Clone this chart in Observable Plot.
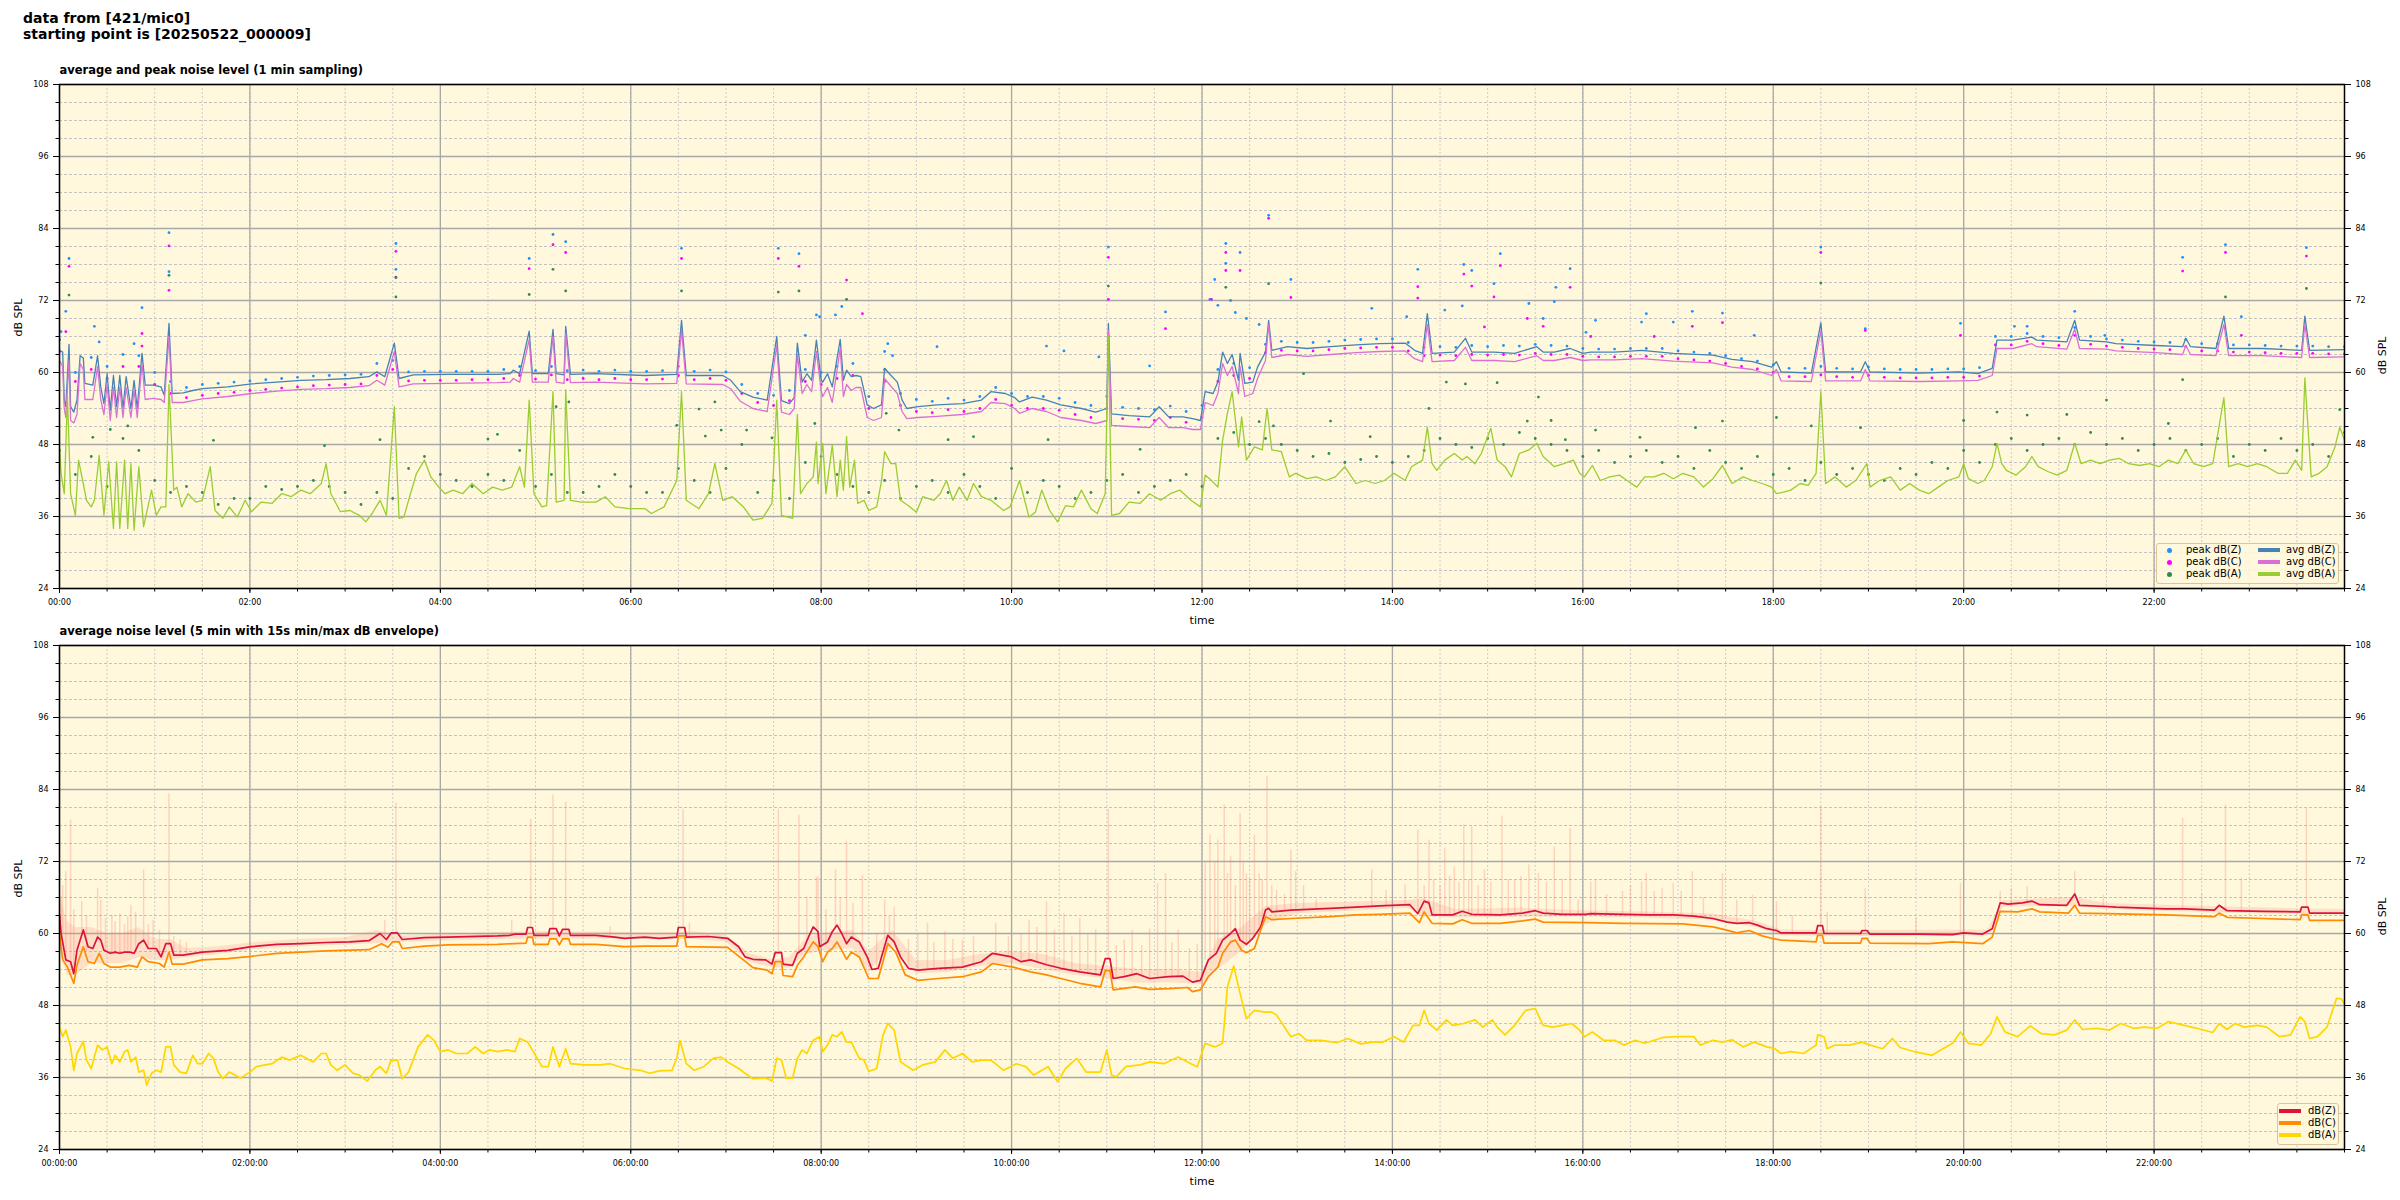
<!DOCTYPE html>
<html><head><meta charset="utf-8">
<script src="https://cdn.jsdelivr.net/npm/d3@7"></script>
<script src="https://cdn.jsdelivr.net/npm/@observablehq/plot@0.6"></script>
<style>
body{margin:0;background:#fff;width:2400px;height:1200px;position:relative;overflow:hidden;font-family:"DejaVu Sans",sans-serif;color:#000}
.abs{position:absolute}
.main{left:23px;top:10px;font-weight:bold;font-size:14px;line-height:16px;white-space:pre}
.legend{position:absolute;background:rgba(255,248,220,0.85);border:1px solid #dcc49a;border-radius:3px;font-size:10px}
.legend .it{position:absolute;white-space:nowrap;line-height:12px}
.legend .dot{position:absolute;width:5px;height:5px;border-radius:50%}
.legend .ln{position:absolute;height:4px;width:22px}
svg{display:block}
</style></head>
<body>
<div class="abs main">data from [421/mic0]
starting point is [20250522_000009]</div>
<div id="p1" class="abs" style="left:0;top:44px"></div>
<div id="p2" class="abs" style="left:0;top:605px"></div>
<div id="leg1" class="legend" style="left:2156px;top:543px;width:181px;height:39px"></div>
<div id="leg2" class="legend" style="left:2277px;top:1103px;width:60px;height:40px"></div>
<script>
// ---------- tick values / labels ----------
const majorX = [0,120,240,360,480,600,720,840,960,1080,1200,1320];
const xLabels1 = ["00:00","02:00","04:00","06:00","08:00","10:00","12:00","14:00","16:00","18:00","20:00","22:00"];
const xLabels2 = ["00:00:00","02:00:00","04:00:00","06:00:00","08:00:00","10:00:00","12:00:00","14:00:00","16:00:00","18:00:00","20:00:00","22:00:00"];
const yTicks = [24,36,48,60,72,84,96,108];
const minorX = d3.range(0,1441,30);
const minorY = d3.range(24,109,3);

// ---------- panel 1: 1-min averages [minute, dB] ----------
const avgZ = [[0,63.7],[2,63.4],[3,55.4],[4,54.3],[6,64.7],[7,54.3],[9,53.4],[11,55.4],[13,62.8],[15,62.4],[16,58.2],[21,57.9],[24,62.8],[26,57.6],[28,54.8],[30,59.8],[32,53.7],[34,59.5],[36,54.3],[38,59.5],[40,54.0],[42,59.3],[45,54.0],[47,58.7],[49,54.0],[52,63.2],[54,57.9],[59,57.9],[64,57.6],[66,56.2],[69,68.2],[71,56.5],[78,56.6],[84,57.0],[90,57.3],[106,57.6],[121,58.1],[137,58.4],[152,58.7],[168,58.8],[183,59.0],[195,59.3],[200,60.1],[205,59.3],[211,64.9],[214,59.0],[223,59.6],[245,59.7],[276,59.7],[284,59.8],[286,60.4],[290,59.8],[296,66.9],[298,59.8],[308,59.8],[311,67.2],[313,59.8],[318,59.6],[319,67.7],[322,59.7],[338,59.8],[369,59.5],[389,59.7],[392,68.7],[395,59.5],[418,59.5],[423,58.7],[429,56.8],[437,55.9],[446,55.4],[452,66.0],[455,55.3],[460,54.8],[463,55.8],[465,64.9],[468,58.4],[471,59.8],[474,58.7],[477,65.4],[480,58.7],[481,58.4],[484,59.8],[487,57.6],[492,65.5],[494,58.7],[496,60.4],[499,59.3],[502,59.5],[505,59.3],[509,54.6],[513,54.0],[518,54.6],[520,60.7],[523,59.8],[528,58.4],[531,55.4],[534,54.0],[541,54.3],[553,54.6],[569,54.8],[581,55.4],[587,56.8],[596,56.5],[602,55.8],[605,55.1],[613,55.9],[622,55.4],[631,54.6],[644,54.0],[653,53.4],[660,54.0],[661,68.2],[663,53.1],[674,52.8],[687,52.6],[693,54.3],[699,52.6],[708,52.6],[714,52.3],[719,52.0],[722,56.8],[727,56.5],[730,58.4],[733,63.4],[736,61.5],[739,63.0],[743,58.7],[744,63.2],[747,58.2],[752,58.4],[755,60.9],[760,63.4],[762,68.7],[764,63.7],[774,64.3],[786,64.0],[801,64.3],[817,64.6],[832,64.8],[848,64.9],[854,63.7],[859,63.2],[862,69.8],[865,63.2],[879,63.4],[886,65.7],[890,63.4],[904,63.4],[917,63.2],[931,64.3],[935,63.4],[942,63.4],[952,64.0],[960,63.2],[965,63.4],[980,63.4],[997,63.7],[1017,63.2],[1042,62.9],[1054,62.2],[1067,61.8],[1079,60.9],[1082,61.8],[1085,60.1],[1104,59.9],[1110,68.3],[1113,60.1],[1135,60.1],[1138,61.8],[1141,60.1],[1172,59.9],[1197,60.1],[1209,59.8],[1218,60.7],[1221,65.4],[1231,65.4],[1243,65.9],[1246,65.4],[1265,65.1],[1270,68.7],[1273,65.4],[1290,65.1],[1296,64.8],[1321,64.5],[1338,64.3],[1340,65.7],[1343,64.3],[1359,64.0],[1364,69.4],[1367,64.0],[1388,64.0],[1413,63.7],[1415,69.4],[1418,63.7],[1440,63.8]];
const avgC = [[0,62.0],[2,61.0],[3,54.0],[4,52.5],[6,62.0],[7,52.0],[9,51.6],[11,53.0],[13,61.5],[15,60.5],[16,55.5],[21,55.5],[24,61.0],[26,55.5],[28,53.0],[30,58.0],[32,52.0],[34,57.5],[36,52.5],[38,57.5],[40,52.5],[42,57.5],[45,52.5],[47,57.0],[49,52.5],[52,61.5],[54,55.5],[59,55.7],[64,55.5],[66,55.0],[69,66.0],[71,55.0],[78,55.0],[84,55.3],[90,55.6],[106,56.0],[121,56.5],[137,56.9],[152,57.2],[168,57.3],[183,57.5],[195,57.8],[200,58.7],[205,57.9],[211,63.5],[214,57.6],[223,58.1],[245,58.2],[276,58.3],[284,58.4],[286,59.0],[290,58.4],[296,65.5],[298,58.4],[308,58.4],[311,66.0],[313,58.4],[318,58.2],[319,66.5],[322,58.3],[338,58.4],[369,58.1],[389,58.2],[392,67.0],[395,58.1],[418,58.0],[423,57.3],[429,55.2],[437,54.0],[446,53.5],[452,64.5],[455,53.4],[460,53.0],[463,54.0],[465,63.0],[468,56.5],[471,58.0],[474,56.8],[477,63.5],[480,57.0],[481,56.0],[484,57.5],[487,55.0],[492,64.0],[494,56.0],[496,58.0],[499,57.0],[502,57.5],[505,57.5],[509,52.5],[513,52.0],[518,52.5],[520,59.0],[523,58.0],[528,56.5],[531,53.5],[534,52.3],[541,52.5],[553,52.7],[569,53.0],[581,53.5],[587,55.0],[596,54.8],[602,54.0],[605,53.2],[613,54.0],[622,53.5],[631,52.5],[644,52.0],[653,51.5],[660,52.0],[661,67.0],[663,51.2],[674,51.0],[687,50.8],[693,52.5],[699,50.8],[708,50.8],[714,50.5],[719,50.5],[722,55.0],[727,54.5],[730,56.5],[733,61.5],[736,59.5],[739,61.0],[743,56.5],[744,61.0],[747,56.0],[752,56.5],[755,59.0],[760,62.0],[762,68.0],[764,62.5],[774,63.0],[786,62.7],[801,63.0],[817,63.3],[832,63.5],[848,63.6],[854,62.3],[859,61.8],[862,68.0],[865,61.8],[879,62.0],[886,64.2],[890,62.0],[904,62.0],[917,61.8],[931,62.8],[935,62.0],[942,62.0],[952,62.5],[960,62.0],[965,62.1],[980,62.1],[997,62.3],[1017,61.9],[1042,61.6],[1054,60.9],[1067,60.5],[1079,59.5],[1082,60.5],[1085,58.6],[1104,58.5],[1110,67.0],[1113,58.6],[1135,58.6],[1138,60.5],[1141,58.6],[1172,58.5],[1197,58.6],[1209,58.7],[1218,59.5],[1221,64.0],[1231,64.0],[1243,64.8],[1246,64.3],[1265,63.9],[1270,67.2],[1273,64.0],[1290,63.9],[1296,63.6],[1321,63.3],[1338,63.0],[1340,64.5],[1343,63.0],[1359,62.8],[1364,68.0],[1367,62.8],[1388,62.8],[1413,62.5],[1415,68.0],[1418,62.5],[1440,62.6]];
const avgA = [[0,47.3],[1,43.2],[3,39.8],[5,56],[7,39.8],[10,36.2],[12,45.4],[15,41.5],[17,38.7],[20,37.6],[22,38.7],[25,46.2],[28,36.2],[31,45.1],[34,34],[36,45.1],[38,34],[41,45.4],[43,34],[45,44.8],[47,33.7],[50,44.3],[53,34.3],[58,40.4],[61,36.2],[64,37.6],[67,37.6],[69,58],[72,40.4],[74,40.9],[77,37.6],[81,39.8],[86,38.4],[90,38.7],[95,44.3],[98,37],[103,35.7],[107,37.6],[112,35.9],[117,38.7],[121,36.8],[127,38.4],[134,38.2],[140,39.8],[146,39.3],[152,40.4],[158,39.8],[165,41.5],[168,44.8],[171,39.8],[177,36.8],[183,37],[189,36.2],[193,35.1],[197,36.5],[202,38.7],[206,36.2],[211,54.3],[214,35.7],[217,35.9],[220,38.7],[225,43.2],[230,45.4],[234,42.6],[239,40.9],[243,39.8],[248,40.4],[254,39.8],[260,41.5],[267,39.8],[273,40.9],[279,40.4],[285,40.9],[290,44.3],[293,40.9],[296,55.4],[299,39.8],[304,37.6],[307,37.8],[311,56.8],[313,38.4],[318,38.7],[319,57.1],[322,38.7],[329,38.4],[338,38.4],[344,39.3],[350,37.6],[359,37.3],[369,37.3],[373,36.5],[381,37.6],[389,42],[392,56.8],[395,38.7],[403,37.3],[409,39.8],[413,44.8],[418,38.7],[424,39.3],[431,37.6],[437,35.4],[443,35.7],[449,38.2],[452,55.4],[455,36.2],[462,35.7],[465,53],[467,39.8],[471,41.5],[475,42.6],[477,48.4],[478,41.5],[481,48.2],[483,39.8],[487,47.9],[490,39.3],[492,45.4],[494,40.4],[496,49.3],[498,40.9],[501,45.4],[503,38.2],[507,38.7],[510,37],[515,37.6],[518,41.9],[520,46.8],[524,44.8],[527,44.8],[530,38.7],[535,37.8],[540,36.7],[544,39.3],[551,38.7],[555,39.8],[559,42],[563,38.7],[567,40.9],[572,38.7],[576,41.5],[581,39.3],[587,38.7],[595,37],[599,37.6],[605,42],[611,35.9],[615,36.7],[619,40.4],[624,37],[629,35.1],[634,37.8],[639,37.6],[644,40.4],[650,37.3],[654,36.5],[659,39.8],[661,66],[663,36.2],[668,36.5],[674,38.4],[681,38.2],[687,39.8],[694,38.7],[700,39.8],[706,40.4],[713,38.7],[719,37.6],[722,42.9],[726,42],[730,40.9],[733,48.7],[736,53.2],[739,56.8],[743,47.6],[745,52.6],[748,45.4],[753,47.6],[758,47.1],[761,54],[764,47.1],[770,46.8],[775,42.6],[779,43.2],[786,42.3],[792,42.6],[798,42],[804,42.6],[810,44.3],[817,41.5],[823,42],[829,41.5],[835,42],[841,43.2],[848,42],[852,44.3],[859,45.4],[862,50.9],[865,44.8],[868,43.7],[873,45.4],[879,46.5],[884,45.4],[887,46],[892,44.8],[896,46.5],[902,50.7],[906,45.4],[911,44.3],[915,42.6],[920,46.5],[926,47.1],[931,48.2],[935,46],[942,44.3],[948,44.8],[954,45.4],[958,43.2],[961,42.6],[966,44.5],[971,42],[977,42.6],[983,42.9],[989,41.8],[994,40.9],[999,42.6],[1005,42.6],[1011,43.2],[1017,42.3],[1023,43.2],[1030,42.6],[1036,40.9],[1042,42.3],[1048,44.5],[1054,41.5],[1061,42.6],[1067,42],[1073,41.5],[1079,40.9],[1082,39.8],[1087,40.1],[1091,40.4],[1097,41.5],[1102,41.2],[1107,43.2],[1110,56.8],[1113,41.5],[1119,42.6],[1126,40.9],[1132,42],[1139,44.8],[1141,40.9],[1147,42],[1154,42.6],[1160,40.4],[1166,41.5],[1172,40.4],[1178,39.8],[1184,40.9],[1190,42],[1197,42.6],[1200,44.8],[1203,42.3],[1209,41.5],[1213,42],[1218,44.3],[1221,48.2],[1224,44.8],[1227,43.7],[1233,42.9],[1239,44.3],[1243,46],[1247,44.3],[1253,43.5],[1259,42.9],[1265,43.7],[1270,48.2],[1274,44.8],[1280,45.4],[1286,44.8],[1292,45.4],[1298,45.7],[1304,44.8],[1311,44.5],[1317,44.8],[1323,44.3],[1329,45.4],[1335,44.8],[1340,47.1],[1345,44.8],[1351,44.3],[1357,44.8],[1364,55.8],[1367,44.3],[1373,44.8],[1379,44.3],[1385,44.8],[1391,44.3],[1398,43.2],[1404,43.2],[1409,45.4],[1413,43.7],[1415,59.1],[1419,42.6],[1424,43.2],[1429,44.3],[1434,47.6],[1437,50.9],[1440,48.7]];

// ---------- panel 1: peak readings [minute, dB] ----------
const peakZ = [[0,65.5],[10,60],[20,62.5],[30,61],[40,63],[50,62.8],[60,60],[70,58.5],[80,57.5],[90,58],[100,58.2],[110,58.4],[120,58.6],[130,58.8],[140,59],[150,59.2],[160,59.4],[170,59.5],[180,59.6],[190,59.7],[200,61.5],[210,62],[220,60.1],[230,60.2],[240,60.2],[250,60.2],[260,60.2],[270,60.2],[280,60.5],[290,61],[300,60.3],[310,61],[320,60.3],[330,60.4],[340,60.2],[350,60.4],[360,60.2],[370,60.2],[380,60.3],[390,61],[400,60.2],[410,60.4],[420,60.1],[430,58],[440,56.5],[450,56.2],[460,57],[470,60.5],[480,60],[490,61],[500,61.5],[510,56],[520,60.5],[530,56.5],[540,55.5],[550,55.2],[560,55.7],[570,55.4],[580,56],[590,57.5],[600,56.5],[610,56],[620,56],[630,55.7],[640,55],[650,54.5],[660,56],[670,54.2],[680,54],[690,53.8],[700,54.4],[710,53.5],[720,54.5],[730,60.5],[740,61.5],[750,60.8],[760,64.7],[770,65.2],[780,65],[790,65],[800,65.2],[810,65.4],[820,65.5],[830,65.6],[840,65.6],[850,65],[860,64.2],[870,64.3],[880,64.2],[890,64.5],[900,64.3],[910,64.5],[920,64.4],[930,64.7],[940,64.5],[950,64.4],[960,64],[970,63.9],[980,63.9],[990,64],[1000,64],[1010,64],[1020,63.6],[1030,63.4],[1040,63.2],[1050,62.8],[1060,62.3],[1070,61.9],[1080,61.3],[1090,60.7],[1100,60.7],[1110,61],[1120,60.7],[1130,60.6],[1140,60.9],[1150,60.6],[1160,60.5],[1170,60.5],[1180,60.5],[1190,60.6],[1200,60.6],[1210,60.8],[1220,66],[1230,66],[1240,66.5],[1250,66],[1260,65.8],[1270,67.5],[1280,66],[1290,65.6],[1300,65.4],[1310,65.2],[1320,65.1],[1330,65],[1340,65.5],[1350,64.8],[1360,64.8],[1370,64.6],[1380,64.6],[1390,64.5],[1400,64.4],[1410,64.4],[1420,64.4],[1430,64.3],[1440,64.3],
 [6,79],[69,83.3],[69,76.8],[212,81.5],[212,77.2],[296,79],[311,83],[319,81.8],[392,80.7],[453,80.7],[466,79.8],[4,70.2],[1,66.8],[52,70.8],[22,67.7],[25,65.1],[47,64.8],[477,69.6],[470,66.2],
 [661,80.9],[735,81.5],[735,78.2],[744,80],[762,86.2],[776,75.5],[725,72.2],[728,75.5],[730,71.2],[856,77.2],[885,78],[890,77],[908,79.8],[904,74.8],[952,77.3],[943,74.2],[520,63.5],[522,64.8],[525,62.8],[553,64.3],[622,64.4],[633,63.6],[655,62.6],[697,70.1],[687,61.1],[489,69.6],[493,71],[479,69.3],[827,70.7],[873,70.4],[926,71.5],[942,71.8],[849,69.3],[935,69],[884,71.1],[738,72],[741,70],[748,69],[756,68],
 [1110,80.9],[1338,79.2],[1365,81.3],[1416,80.8],[968,68.7],[1000,69.8],[1029,70.2],[1048,69.9],[997,68.4],[1017,68.4],[962,66.7],[1138,67.3],[1198,68.2],[1270,70.2],[1375,69.3],[1232,67.7],[1240,67.7],[1289,66.2],[1068,66.2]];
const peakC = [[0,63.5],[10,58.5],[20,60.5],[30,59],[40,61],[50,61],[60,58],[70,56.5],[80,55.8],[90,56.2],[100,56.5],[110,56.7],[120,57],[130,57.2],[140,57.4],[150,57.6],[160,57.8],[170,57.9],[180,58],[190,58.1],[200,59.5],[210,60.5],[220,58.6],[230,58.7],[240,58.7],[250,58.7],[260,58.8],[270,58.8],[280,59],[290,59.5],[300,58.9],[310,59.6],[320,58.8],[330,59],[340,58.8],[350,59],[360,58.8],[370,58.8],[380,58.9],[390,59.5],[400,58.8],[410,59],[420,58.7],[430,56.5],[440,55],[450,54.5],[460,55.3],[470,58.5],[480,58],[490,59],[500,59.5],[510,54],[520,58.5],[530,54.5],[540,53.5],[550,53.3],[560,53.8],[570,53.5],[580,54],[590,55.5],[600,54.5],[610,54],[620,54],[630,53.7],[640,53],[650,52.5],[660,54],[670,52.3],[680,52.2],[690,52],[700,52.5],[710,51.7],[720,52.5],[730,58.5],[740,59.5],[750,59],[760,63.3],[770,63.7],[780,63.6],[790,63.6],[800,63.8],[810,64],[820,64.1],[830,64.2],[840,64.2],[850,63.6],[860,62.8],[870,62.9],[880,62.8],[890,63],[900,62.9],[910,63],[920,62.9],[930,63.2],[940,63],[950,63],[960,62.7],[970,62.6],[980,62.6],[990,62.7],[1000,62.7],[1010,62.7],[1020,62.3],[1030,62.1],[1040,61.9],[1050,61.5],[1060,61],[1070,60.6],[1080,60],[1090,59.3],[1100,59.3],[1110,59.6],[1120,59.3],[1130,59.2],[1140,59.5],[1150,59.2],[1160,59.1],[1170,59.1],[1180,59.1],[1190,59.2],[1200,59.2],[1210,59.4],[1220,64.6],[1230,64.6],[1240,65.2],[1250,64.8],[1260,64.5],[1270,66.2],[1280,64.7],[1290,64.4],[1300,64.2],[1310,64],[1320,63.9],[1330,63.8],[1340,64.3],[1350,63.6],[1360,63.6],[1370,63.4],[1380,63.4],[1390,63.3],[1400,63.2],[1410,63.2],[1420,63.2],[1430,63.1],[1440,63.1],
 [6,77.7],[69,81.1],[69,73.7],[212,80.2],[212,75.9],[296,77.3],[311,81.3],[319,80],[392,79],[453,79],[466,77.7],[4,66.8],[52,66.5],[52,64.4],
 [496,75.4],[661,79.2],[661,72.2],[735,80],[735,77],[744,77],[762,85.7],[776,72.5],[726,72.2],[856,74.3],[856,72.4],[885,76.4],[890,74.4],[908,77.8],[904,72.6],[952,74.2],[506,69.8],[697,67.3],[925,69],[935,67.7],[898,67.6],
 [1110,80],[1338,76.9],[1365,80],[1416,79.4],[1048,68.3],[1029,67.7],[1005,66],[1138,67],[1198,66.2],[1375,66.2],[965,66]];
const peakA = [[0,47],[10,43],[20,46],[30,41],[40,49],[50,47],[60,42],[70,40],[80,41],[90,40],[100,38],[110,39],[120,39],[130,41],[140,40.5],[150,41],[160,42],[170,41],[180,40],[190,38],[200,40],[210,39],[220,44],[230,46],[240,43],[250,42],[260,41],[270,43],[280,42],[290,47],[300,41],[310,43],[320,40],[330,40],[340,41],[350,43],[360,41],[370,40],[380,40],[390,44],[400,42],[410,40],[420,44],[430,48],[440,40],[450,42],[460,39],[470,45],[480,46],[490,43],[500,41],[510,40],[520,42],[530,39],[540,41],[550,42],[560,40],[570,43],[580,41],[590,39],[600,44],[610,40],[620,42],[630,41],[640,39],[650,40],[660,42],[670,43],[680,40],[690,41],[700,42],[710,43],[720,41],[730,49],[740,50],[750,48],[760,49],[770,48],[780,47],[790,46],[800,46.5],[810,45],[820,45.5],[830,46],[840,45],[850,46],[860,47],[870,49],[880,48],[890,47.5],[900,49],[910,48],[920,50],[930,49],[940,48],[950,47],[960,46],[970,47],[980,45],[990,46],[1000,47],[1010,45],[1020,46],[1030,44],[1040,47],[1050,45],[1060,44],[1070,46],[1080,43],[1090,44],[1100,42],[1110,45],[1120,43],[1130,44],[1140,43],[1150,42],[1160,44],[1170,43],[1180,45],[1190,44],[1200,47],[1210,45],[1220,48],[1230,49],[1240,47],[1250,48],[1260,49],[1270,48],[1280,50],[1290,48],[1300,49],[1310,47],[1320,48],[1330,49],[1340,47],[1350,48],[1360,49],[1370,46],[1380,48],[1390,47],[1400,49],[1410,47],[1420,48],[1430,46],[1440,50],
 [6,72.9],[69,76.2],[212,75.8],[212,72.6],[296,73],[311,77.2],[319,73.6],[392,73.6],[453,73.4],[466,73.6],
 [21,49.2],[32,50.5],[43,51.1],[97,48.7],[167,47.8],[202,48.8],[270,48.9],[276,49.7],[313,54.3],[321,55.1],[413,55.1],[403,53.9],[389,51.2],[417,50.4],[433,50.4],[407,49.4],[449,49.1],
 [496,72.2],[661,74.4],[735,74.2],[762,74.8],[476,51.5],[521,53.2],[529,50.4],[560,48.8],[576,49.3],[623,48.8],[681,47.2],[863,54],[874,58.4],[886,58.1],[906,58.3],[932,55.9],[784,59.8],[801,51.9],[826,49.3],[925,51.9],[940,52],[949,48.8],[756,51.8],[765,51.1],
 [1110,74.9],[1365,72.6],[1416,74],[1338,58.8],[1082,52.5],[1135,50.8],[1104,51.1],[1048,51.9],[1221,53.4],[1240,52.9],[1265,53],[1290,55.4],[1437,53.8],[1329,51.5],[1200,52],[1031,50.8],[968,50.4],[996,49.2]];

// ---------- panel 2: 5-min averages [minute, dB] ----------
const lineZ = [[0,63.1],[1,60],[4,55.6],[7,55.3],[9,53.3],[11,57.2],[15,60.6],[18,57.8],[21,57.5],[24,59.4],[26,58.9],[28,57.2],[32,56.7],[35,56.9],[38,56.7],[41,56.9],[44,56.9],[47,56.7],[50,58.3],[53,58.9],[56,57.5],[61,57.5],[64,56.1],[67,58.3],[70,58.3],[72,56.4],[78,56.4],[90,56.9],[106,57.2],[121,57.8],[137,58.2],[152,58.3],[168,58.5],[183,58.6],[195,58.8],[202,60],[206,59],[209,60.1],[213,60.1],[216,59],[230,59.3],[245,59.4],[276,59.6],[284,59.7],[287,59.9],[294,59.9],[295,61],[298,61],[299,59.7],[308,59.7],[309,60.8],[313,60.8],[315,59.6],[317,60.7],[321,60.7],[322,59.7],[338,59.7],[350,59.4],[356,59.2],[369,59.4],[378,59.2],[389,59.4],[390,61],[394,61],[395,59.4],[409,59.5],[421,59.2],[428,57.8],[432,56.1],[437,55.7],[445,55.6],[449,54.9],[451,56.8],[455,56.8],[456,54.9],[462,54.7],[465,56.7],[469,57.5],[472,59.4],[475,61.1],[478,60.3],[479,57.8],[484,58.6],[487,60.3],[490,61.4],[493,60],[496,58.3],[499,59.4],[504,58.6],[509,56.1],[512,54],[516,54.2],[522,59.7],[526,58.6],[530,56.1],[535,54.2],[541,53.9],[554,54.2],[569,54.4],[581,55.3],[588,56.7],[600,56.1],[606,55.3],[612,55.6],[622,54.8],[631,54.2],[643,53.6],[656,53.1],[659,55.8],[662,55.8],[664,52.5],[671,52.8],[679,53.3],[687,52.5],[699,52.8],[708,52.9],[714,51.9],[719,52.2],[724,55.6],[729,56.7],[733,58.9],[738,60],[741,60.8],[744,58.9],[748,58.2],[752,59.2],[757,61.1],[760,63.9],[762,64.2],[764,63.6],[776,63.9],[801,64.2],[817,64.4],[832,64.6],[851,64.8],[856,63.3],[860,65.4],[863,65.1],[865,63.1],[878,63.1],[884,63.7],[890,63.2],[908,63.1],[922,63.4],[930,63.8],[935,63.4],[947,63.2],[962,63.2],[965,63.3],[986,63.2],[1002,63.1],[1017,63.1],[1030,62.9],[1042,62.5],[1051,61.9],[1057,61.7],[1065,61.8],[1070,61.4],[1076,60.8],[1082,60.5],[1085,60.1],[1107,60.1],[1108,61.3],[1111,61.3],[1112,60],[1135,60],[1136,60.5],[1139,60.5],[1141,59.9],[1172,59.9],[1193,59.8],[1200,60.1],[1212,59.9],[1218,60.8],[1223,65.1],[1228,64.9],[1237,65.1],[1243,65.4],[1248,64.8],[1265,64.7],[1270,66.6],[1273,64.7],[1290,64.5],[1296,64.4],[1327,64.1],[1339,64.1],[1358,63.9],[1361,64.7],[1366,63.8],[1389,63.7],[1412,63.6],[1413,64.4],[1417,64.4],[1418,63.4],[1440,63.4]];
const lineC = [[0,60],[2,55.6],[5,54.4],[9,51.7],[11,54.7],[15,57.8],[18,55.3],[22,55],[25,56.7],[28,55],[32,54.4],[38,54.4],[44,54.7],[49,54.4],[52,56.1],[56,55.3],[63,55],[66,54.4],[69,56.9],[71,54.9],[78,54.9],[90,55.6],[106,55.8],[121,56.2],[137,56.7],[152,56.9],[168,57.1],[195,57.3],[203,58.3],[207,57.7],[210,58.6],[214,58.6],[216,57.5],[230,57.9],[245,58.1],[276,58.2],[294,58.4],[295,59.4],[298,59.4],[299,58.2],[308,58.2],[309,59.1],[313,59.1],[315,58.1],[317,59.1],[321,59.1],[322,58.2],[338,58.2],[356,57.8],[369,57.9],[389,57.9],[390,59.6],[394,59.6],[395,57.8],[421,57.7],[431,55.6],[437,54.3],[446,53.9],[449,53.3],[451,55.3],[455,55.3],[456,53],[462,52.8],[465,54.7],[469,56.1],[475,58.6],[478,57.8],[481,55.3],[484,56.9],[487,57.5],[490,58.6],[493,57.2],[496,55.7],[499,56.9],[504,56.1],[510,52.5],[516,52.5],[522,58.3],[527,56.9],[533,53.1],[541,52.2],[554,52.5],[569,52.8],[581,53.6],[588,55],[601,54.4],[612,53.6],[622,53.1],[631,52.5],[643,51.7],[656,51.1],[659,53.8],[662,53.8],[664,50.6],[678,51.1],[687,50.7],[699,50.8],[711,51],[714,50.3],[719,50.6],[724,52.8],[730,54.4],[733,56.7],[738,58.6],[741,58.9],[745,57.2],[748,56.8],[753,57.5],[757,60.6],[760,62.8],[764,62.3],[776,62.5],[801,62.8],[817,63.1],[832,63.2],[851,63.4],[857,61.8],[860,63.6],[865,61.7],[878,61.6],[884,62.3],[890,61.7],[908,61.7],[922,62.1],[930,62.4],[935,61.9],[962,61.8],[986,61.7],[1023,61.6],[1042,61.1],[1050,60.6],[1057,60.1],[1065,60.5],[1073,59.6],[1079,59.2],[1085,58.9],[1107,58.6],[1108,59.7],[1111,59.7],[1112,58.4],[1135,58.4],[1136,59.2],[1139,59.2],[1141,58.4],[1178,58.3],[1193,58.6],[1212,58.3],[1218,59.4],[1223,63.7],[1234,63.6],[1243,64.1],[1248,63.6],[1266,63.4],[1270,64.7],[1273,63.4],[1290,63.3],[1327,63.1],[1358,62.8],[1361,63.4],[1366,62.7],[1389,62.5],[1412,62.3],[1413,63.1],[1417,63.1],[1418,62.2],[1440,62.2]];
const lineA = [[0,44.4],[2,42.8],[4,43.9],[7,41.1],[9,37.2],[11,40],[15,42],[17,38.9],[20,37.5],[24,41.4],[27,40.6],[30,41.1],[33,38.3],[35,39.7],[38,38.6],[41,40.3],[43,40.6],[45,38.6],[48,39.4],[50,36.9],[53,37.2],[55,34.7],[58,36.7],[61,37.2],[64,36.9],[67,41.1],[70,41.1],[72,38.1],[76,36.9],[80,36.7],[84,39.7],[87,38.3],[90,38.3],[94,40],[97,39.2],[100,36.9],[103,35.8],[107,36.9],[114,35.9],[120,36.9],[124,37.8],[134,38.3],[140,39.4],[145,38.9],[152,39.7],[160,38.6],[165,40],[168,40],[171,38.1],[175,37.2],[180,38.1],[185,36.7],[189,36.4],[194,35.4],[199,37.2],[202,37.8],[206,36.7],[209,38.9],[213,38.9],[216,35.8],[220,36.9],[226,41.1],[232,43.1],[236,42.2],[240,40.3],[245,40.6],[250,40],[257,40],[262,41.1],[267,40],[271,40.6],[276,40.3],[282,40.6],[287,40.3],[290,42.5],[295,41.9],[298,40.6],[304,37.8],[308,37.8],[311,41.1],[315,37.8],[319,40.8],[322,38.3],[331,38.1],[341,38.1],[347,38.3],[356,37.5],[366,37.2],[372,36.7],[378,37.1],[386,37.2],[389,39.2],[391,42.2],[395,38.3],[400,37.2],[406,37.8],[412,39.2],[417,39.4],[421,38.6],[428,37.5],[432,36.7],[437,35.8],[445,35.9],[449,35.4],[452,39.2],[455,38.9],[458,35.9],[462,35.9],[465,39.2],[468,40.6],[471,40],[475,42.2],[479,42.8],[481,40.3],[484,41.4],[487,43.1],[490,42.8],[493,43.6],[496,41.9],[499,41.9],[504,39.2],[507,38.9],[510,37],[515,37.5],[519,43.1],[522,45],[526,43.9],[530,38.6],[538,37.2],[544,38.1],[552,38.6],[558,40.6],[563,39.2],[569,40],[575,38.6],[581,38.9],[587,38.9],[595,37.2],[603,38.3],[609,37.8],[614,36.4],[623,37.8],[629,35.3],[634,37.5],[641,39.2],[647,36.9],[656,36.9],[660,40.6],[663,36.4],[666,36.1],[672,37.8],[681,38.1],[687,38.6],[696,38.3],[705,39.4],[713,38.3],[717,37.8],[722,41.7],[728,41.1],[733,41.7],[736,51.1],[740,54.6],[743,51.1],[748,45.8],[753,47.2],[760,46.9],[764,46.9],[767,46.4],[772,44.4],[776,42.8],[781,43.3],[786,42.2],[795,42.2],[805,41.8],[812,42.5],[820,41.6],[827,41.9],[834,41.9],[841,42.8],[847,41.9],[853,44.7],[857,44.7],[860,47.2],[863,45],[868,43.9],[874,45.6],[878,44.7],[885,45],[892,45.6],[897,44.4],[903,45.6],[906,44.4],[911,43.1],[917,44.7],[924,47.2],[930,47.5],[935,44.7],[941,44.4],[947,44.7],[953,45],[958,43.9],[961,42.8],[966,43.6],[973,42.2],[980,42.2],[986,41.4],[993,42.2],[999,41.7],[1005,42.2],[1011,42.7],[1020,42.8],[1030,42.8],[1034,41.4],[1042,42.2],[1048,41.9],[1054,42.3],[1061,41.1],[1068,41.9],[1076,41.1],[1081,40.8],[1085,40],[1091,40.3],[1099,40],[1107,41.4],[1108,43.1],[1112,42.8],[1114,40.8],[1119,41.4],[1128,41.4],[1136,41.9],[1141,41.4],[1149,40.8],[1155,42.5],[1160,41],[1169,40.3],[1180,39.7],[1187,40.8],[1193,41.7],[1198,43.6],[1203,41.7],[1211,41.4],[1217,43.3],[1221,46.1],[1226,43.6],[1234,42.8],[1242,44.6],[1249,43.3],[1257,43.1],[1262,43.6],[1265,43.9],[1270,45.6],[1275,44],[1284,44.2],[1292,43.9],[1299,45],[1307,44.2],[1314,44.4],[1322,44.2],[1329,45.3],[1339,44.7],[1347,44.2],[1357,43.5],[1361,45],[1366,44],[1371,45],[1377,44.4],[1385,44.7],[1391,44.4],[1399,42.8],[1406,43.1],[1412,46.1],[1415,45.3],[1418,42.5],[1423,42.8],[1429,44.4],[1435,49.2],[1438,49.1],[1440,48.2]];

// ---------- panel 2: 15 s min/max envelope [minute, min dB, max dB] ----------
const envBand = [[0,58,66],[5,53,62],[10,53,61],[20,55,61],[30,55,60],[40,55,60],[50,56,61],[60,55.5,59],[70,55.5,59],[80,56,57.5],[100,56.5,57.8],[120,57.2,58.4],[150,57.8,59],[180,58.1,59.3],[200,58.3,60.5],[215,58.5,59.6],[250,58.8,59.9],[280,59,60.2],[300,59.1,60.3],[340,59.1,60.2],[380,59,60.1],[400,59,60.3],[420,58.6,59.7],[435,55.2,56.6],[450,54.3,55.6],[460,54.2,56],[470,56.5,59],[480,57,60],[500,57.5,60.5],[510,53.5,57],[525,58,60.5],[540,53.3,55.5],[560,53.5,55.5],[580,54.5,56.5],[600,55,57],[620,54,56.5],[640,53,55],[660,52.5,54.5],[680,51.7,54],[700,51.8,54],[720,51.5,53.5],[730,54,59],[745,57,61],[760,61.5,64.5],[780,63.3,65],[820,63.8,65.3],[850,64.2,65.5],[860,62.8,65.8],[880,62.6,64],[920,62.7,64.2],[960,62.8,63.8],[1000,62.6,63.6],[1040,62.2,63.3],[1070,61,62],[1085,59.6,60.6],[1140,59.5,60.5],[1215,59.6,60.6],[1225,64.4,65.5],[1270,64.5,66],[1290,64,65],[1340,63.6,64.6],[1400,63.2,64.2],[1440,63.1,64]];
const envSpikes = [[1,62,66.1],[2,60,68],[4,56,70.3],[7,55,78.9],[9,54,64],[14,60,65.3],[17,57,63],[24,59,67.5],[26,58.5,65.6],[29,57,62.5],[33,56.5,63.1],[35,56.5,62],[38,56.5,63.3],[41,56.8,61.5],[43,57,62.8],[45,57,64.7],[48,56.8,63.5],[53,58.5,70.6],[56,58,61.5],[59,57.5,62.2],[63,56.3,60.5],[69,58,83.3],[72,56.4,59.5],[76,56.5,58.9],[80,56.5,58.5],[205,59.5,62.2],[212,60,81.7],[285,59.7,62.2],[297,61,79],[311,60.7,83.1],[319,60.7,81.9],[347,59.4,61.1],[393,61,80.7],[397,59.5,61.7],[453,56.5,80.7],[466,56.5,79.7],[471,59,66.1],[477,60.5,69.4],
 [478,59,69.4],[483,58,64],[489,61,70.6],[492,60,66],[496,58.5,75.3],[500,59,65],[506,58.5,69.7],[515,54,60],[520,59,65.6],[523,59,63],[526,58.5,64.4],[535,54.2,59],[541,54,60],[547,54,61.7],[551,54.2,58.5],[558,54.2,60.3],[563,54.3,59],[569,54.4,58.9],[576,54.8,59.5],[590,56.5,61.7],[598,56,59.5],[606,55.5,60],[611,55.5,62.2],[616,55.3,61],[622,54.8,65.3],[627,54.5,60.5],[633,54.2,63.3],[638,54,59.5],[643,53.6,62.5],[648,53.4,60],[653,53.2,60.6],[661,55.8,80.7],[666,52.6,58],[671,52.8,58.9],[676,53,60.5],[682,52.8,58],[687,52.6,60.8],[692,52.7,68.3],[697,52.8,70],[701,52.8,58.5],[705,52.9,60.6],[712,52.5,57.5],[717,52,58.2],[722,55.5,71.7],[725,56,76.4],[728,56.5,72],[730,57,75.6],[734,59,81.4],[736,59.5,70],[738,60,72.8],[741,60.8,68],[744,59,80],[746,58.5,72],[748,58.2,70],[750,58.8,69],[753,59.2,76.4],[756,60.5,70],[758,62,69],[761,63.8,86.2],[764,63.6,68],[767,63.7,67.2],[772,63.8,66.5],[776,63.9,73.9],[779,64,70.3],[784,64,68],[792,64.1,65.6],[827,64.5,70.6],[836,64.6,67.2],[848,64.8,68.1],[856,63.3,77.2],[860,65.4,68],[863,65.1,75.6],[866,63.1,69],[870,63.1,68],[873,63.1,74.2],[876,63.1,69.5],[879,63.1,71.1],[882,63.5,68.5],[885,63.7,78.1],[888,63.4,69],[890,63.2,77.8],[894,63.1,68],[898,63.1,70.6],[902,63.1,68.5],[909,63.1,79.6],[913,63.2,69],[917,63.3,68.9],[921,63.4,69.5],[926,63.6,71.4],[932,63.8,70],[937,63.4,68.5],[942,63.3,74.4],[947,63.2,69],[952,63.2,77.5],[957,63.2,65.6],
 [965,63.3,68.6],[968,63.3,68.9],[975,63.3,66.5],[985,63.2,67],[990,63.2,68],[997,63.1,68.6],[1000,63.1,70],[1005,63.1,67],[1010,63.1,67.5],[1017,63.1,68.3],[1022,63,67],[1029,62.9,70.3],[1036,62.7,66],[1048,62.2,70],[1057,61.7,65.6],[1067,61.6,66.4],[1082,60.5,65.3],[1092,60.1,63],[1110,61.3,81.1],[1114,60,63.5],[1138,60.5,67.5],[1170,60,62.5],[1198,60.1,68.3],[1223,65.1,67],[1230,65,67.5],[1240,65.2,67.8],[1270,66.6,70.3],[1288,64.5,66.4],[1338,64.1,79.2],[1350,64,66.7],[1365,63.8,81.4],[1375,63.7,69.2],[1416,64.4,80.8]];

// ---------- styling ----------
const col = {pZ:"#1e90ff", pC:"#ff00ff", pA:"#2e8b57", aZ:"#4682b4", aC:"#da70d6", aA:"#9acd32",
             lZ:"#dc143c", lC:"#ff8c00", lA:"#ffd700", env:"#fa8072"};
const X = d => d[0], Y = d => d[1];

function panel(title, xLabels, dataMarks) {
  const fmt = d => xLabels[majorX.indexOf(d)];
  return Plot.plot({
    width: 2400, height: 600,
    marginLeft: 59, marginRight: 56, marginTop: 40, marginBottom: 56,
    style: {background: "transparent", fontFamily: "'DejaVu Sans', sans-serif", overflow: "visible", color: "#000"},
    x: {domain: [0, 1440], label: null},
    y: {domain: [24, 108], label: null},
    marks: [
      Plot.frame({fill: "#fff8dc", stroke: null}),
      Plot.gridX({ticks: minorX, stroke: "#cdcdcd", strokeOpacity: 1, strokeWidth: 1, strokeDasharray: "2,2"}),
      Plot.gridY({ticks: minorY, stroke: "#c2c2c2", strokeOpacity: 1, strokeWidth: 1, strokeDasharray: "3,2"}),
      Plot.gridX({ticks: majorX, stroke: "#a8a8a8", strokeOpacity: 1, strokeWidth: 1.3}),
      Plot.gridY({ticks: yTicks, stroke: "#a8a8a8", strokeOpacity: 1, strokeWidth: 1.6}),
      ...dataMarks,
      Plot.frame({stroke: "#000", strokeWidth: 1.5}),
      Plot.axisX({ticks: majorX, tickSize: 5, tickPadding: 6, fontSize: 8, tickFormat: fmt, label: null}),
      Plot.axisX({ticks: minorX, tickSize: 3.5, tickFormat: () => "", label: null}),
      Plot.axisY({anchor: "left", ticks: yTicks, tickSize: 6, tickPadding: 5, fontSize: 8, label: null}),
      Plot.axisY({anchor: "left", ticks: minorY, tickSize: 3.5, tickFormat: () => "", label: null}),
      Plot.axisY({anchor: "right", ticks: yTicks, tickSize: 6, tickPadding: 5, fontSize: 8, label: null}),
      Plot.axisY({anchor: "right", ticks: minorY, tickSize: 3.5, tickFormat: () => "", label: null}),
      Plot.text([title], {frameAnchor: "top-left", dy: -14, text: d => d, textAnchor: "start", lineAnchor: "middle", fontWeight: "bold", fontSize: 11.5}),
      Plot.text(["time"], {frameAnchor: "bottom", dy: 32, text: d => d, lineAnchor: "middle", fontSize: 11}),
      Plot.text(["dB SPL"], {frameAnchor: "left", dx: -41, rotate: -90, text: d => d, lineAnchor: "middle", fontSize: 11}),
      Plot.text(["dB SPL"], {frameAnchor: "right", dx: 38, rotate: -90, text: d => d, lineAnchor: "middle", fontSize: 11})
    ]
  });
}

const marks1 = [
  Plot.dot(peakZ, {x: X, y: Y, r: 1.4, fill: col.pZ, stroke: null, clip: true}),
  Plot.dot(peakC, {x: X, y: Y, r: 1.4, fill: col.pC, stroke: null, clip: true}),
  Plot.dot(peakA, {x: X, y: Y, r: 1.4, fill: col.pA, stroke: null, clip: true}),
  Plot.line(avgZ, {x: X, y: Y, stroke: col.aZ, strokeWidth: 1.3, clip: true}),
  Plot.line(avgC, {x: X, y: Y, stroke: col.aC, strokeWidth: 1.3, clip: true}),
  Plot.line(avgA, {x: X, y: Y, stroke: col.aA, strokeWidth: 1.3, clip: true})
];
const marks2 = [
  Plot.areaY(envBand, {x: X, y1: d => d[1], y2: d => d[2], fill: col.env, fillOpacity: 0.2, clip: true}),
  Plot.ruleX(envSpikes, {x: X, y1: d => d[1], y2: d => d[2], stroke: col.env, strokeOpacity: 0.3, strokeWidth: 1.5, clip: true}),
  Plot.line(lineZ, {x: X, y: Y, stroke: col.lZ, strokeWidth: 1.7, clip: true}),
  Plot.line(lineC, {x: X, y: Y, stroke: col.lC, strokeWidth: 1.7, clip: true}),
  Plot.line(lineA, {x: X, y: Y, stroke: col.lA, strokeWidth: 1.7, clip: true})
];

document.getElementById("p1").appendChild(panel("average and peak noise level (1 min sampling)", xLabels1, marks1));
document.getElementById("p2").appendChild(panel("average noise level (5 min with 15s min/max dB envelope)", xLabels2, marks2));

// ---------- legends ----------
const leg1Items = [
  {kind: "dot", color: col.pZ, label: "peak dB(Z)", col: 0, row: 0},
  {kind: "dot", color: col.pC, label: "peak dB(C)", col: 0, row: 1},
  {kind: "dot", color: col.pA, label: "peak dB(A)", col: 0, row: 2},
  {kind: "line", color: col.aZ, label: "avg dB(Z)", col: 1, row: 0},
  {kind: "line", color: col.aC, label: "avg dB(C)", col: 1, row: 1},
  {kind: "line", color: col.aA, label: "avg dB(A)", col: 1, row: 2}
];
const leg2Items = [
  {kind: "line", color: col.lZ, label: "dB(Z)", row: 0},
  {kind: "line", color: col.lC, label: "dB(C)", row: 1},
  {kind: "line", color: col.lA, label: "dB(A)", row: 2}
];
function fillLegend(el, items, opts) {
  items.forEach(it => {
    const cy = opts.rowY[it.row];
    const ox = it.col ? opts.col2 : 0;
    const m = document.createElement("div");
    if (it.kind === "dot") {
      m.className = "dot"; m.style.left = (ox + opts.markX - 2.5) + "px"; m.style.top = (cy - 2.5) + "px";
    } else {
      m.className = "ln"; m.style.left = (ox + opts.lineX) + "px"; m.style.top = (cy - 2) + "px";
    }
    m.style.background = it.color;
    el.appendChild(m);
    const t = document.createElement("div");
    t.className = "it"; t.textContent = it.label;
    t.style.left = (ox + (it.kind === "dot" ? opts.textDot : opts.textLine)) + "px";
    t.style.top = (cy - 6) + "px";
    el.appendChild(t);
  });
}
fillLegend(document.getElementById("leg1"), leg1Items, {rowY: [6, 18, 30], col2: 100, markX: 12, lineX: 1, textDot: 29, textLine: 29});
fillLegend(document.getElementById("leg2"), leg2Items, {rowY: [7, 19, 31], lineX: 1, textLine: 30});
</script>
</body></html>
